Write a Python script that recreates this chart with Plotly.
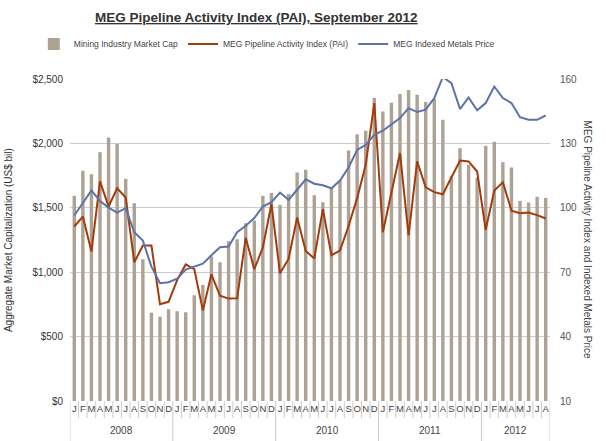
import plotly.graph_objects as go

years = ["2008", "2009", "2010", "2011", "2012"]
months_per_year = [12, 12, 12, 12, 8]
month_letters = ["J", "F", "M", "A", "M", "J", "J", "A", "S", "O", "N", "D"]

market_cap = [1593, 1787, 1761, 1932, 2046, 1997, 1725, 1536, 1101, 686, 655, 712,
              697, 689, 821, 901, 1121, 1077, 1241, 1256, 1380, 1401, 1593, 1614,
              1523, 1608, 1774, 1795, 1598, 1544, 1660, 1713, 1945, 2072, 2098, 2354,
              2248, 2315, 2383, 2414, 2378, 2321, 2344, 2183, 1748, 1963, 1834, 1735,
              1981, 2012, 1854, 1813, 1554, 1541, 1585, 1577]
pai = [91.3, 95.9, 79.6, 112.3, 100.6, 109.1, 104.8, 74.6, 82.4, 82.4, 55.1, 56.2,
       66.3, 73.6, 71.4, 52.2, 69.0, 59.0, 57.7, 57.9, 86.1, 71.4, 81.5, 101.8,
       69.5, 76.2, 95.5, 79.9, 76.4, 99.4, 77.9, 80.1, 91.5, 104.5, 120.0, 148.8,
       88.6, 106.8, 125.5, 87.1, 121.6, 109.5, 107.3, 106.3, 114.1, 122.0, 121.6, 116.9,
       89.7, 108.1, 111.9, 98.7, 97.5, 97.8, 96.6, 95.0]
metals = [96.4, 102.2, 108.1, 103.2, 100.1, 97.8, 99.8, 88.6, 84.7, 72.6, 64.9, 65.3,
          67.0, 71.2, 72.5, 74.0, 77.9, 81.6, 82.0, 88.6, 91.6, 95.2, 100.6, 102.6,
          107.1, 103.7, 108.4, 113.3, 111.2, 110.5, 109.1, 112.7, 118.8, 127.0, 129.3, 134.0,
          135.9, 138.7, 141.8, 146.4, 144.6, 145.7, 151.1, 160.9, 158.1, 146.0, 151.4, 145.4,
          148.8, 156.5, 151.1, 148.8, 142.2, 141.0, 141.0, 143.0]

left_ticks = [0, 500, 1000, 1500, 2000, 2500]
left_labels = ["$0", "$500", "$1,000", "$1,500", "$2,000", "$2,500"]
right_ticks = [10, 40, 70, 100, 130, 160]

n = len(market_cap)
x = list(range(n))
tick_text = []
for cnt in months_per_year:
    tick_text += month_letters[:cnt]

BAR = "#aea295"
BROWN = "#a33c0c"
BLUE = "#5b73aa"
GRID = "#cccccc"
FONT = "Liberation Sans, Arial, sans-serif"

fig = go.Figure()
fig.add_trace(go.Bar(x=x, y=market_cap, name="Mining Industry Market Cap",
                     marker=dict(color=BAR, line=dict(width=0)), width=0.4))
fig.add_trace(go.Scatter(x=x, y=pai, name="MEG Pipeline Activity Index (PAI)",
                         mode="lines", line=dict(color=BROWN, width=2), yaxis="y2"))
fig.add_trace(go.Scatter(x=x, y=metals, name="MEG Indexed Metals Price",
                         mode="lines", line=dict(color=BLUE, width=2), yaxis="y2"))

shapes = []
annotations = []
start = 0
boundaries_year = set([-0.5])
for cnt in months_per_year:
    start += cnt
    boundaries_year.add(start - 0.5)
for i in range(n + 1):
    b = i - 0.5
    is_year = b in boundaries_year
    shapes.append(dict(type="line", xref="x", yref="paper", x0=b, x1=b,
                       y0=0, y1=-0.125 if is_year else -0.053,
                       line=dict(color=GRID, width=1)))
start = 0
for yr, cnt in zip(years, months_per_year):
    center = start + (cnt - 1) / 2
    annotations.append(dict(x=center, y=-0.093, xref="x", yref="paper", text=yr,
                            showarrow=False, yanchor="middle",
                            font=dict(family=FONT, size=10, color="#444")))
    start += cnt

annotations.append(dict(x=-0.129, y=0.5, xref="paper", yref="paper",
                        text="Aggregate Market Capitalization (US$ bil)", textangle=-90,
                        showarrow=False, xanchor="center", yanchor="middle",
                        font=dict(family=FONT, size=10, color="#333")))
annotations.append(dict(x=1.08, y=0.5, xref="paper", yref="paper",
                        text="MEG Pipeline Activity Index and Indexed Metals Price", textangle=90,
                        showarrow=False, xanchor="center", yanchor="middle",
                        font=dict(family=FONT, size=10, color="#444")))
annotations.append(dict(x=0.3875, y=1.192, xref="paper", yref="paper",
                        text="<b><span style='text-decoration:underline'>MEG Pipeline Activity Index (PAI), September 2012</span></b>",
                        showarrow=False, xanchor="center", yanchor="middle",
                        font=dict(family=FONT, size=13.5, color="#333")))

fig.update_layout(
    width=606, height=441,
    margin=dict(l=70, r=56, t=79, b=40, autoexpand=False),
    paper_bgcolor="white", plot_bgcolor="white",
    showlegend=True,
    legend=dict(orientation="h", x=0.41, xanchor="center", y=1.109, yanchor="middle",
                font=dict(family=FONT, size=8.5, color="#444"), itemwidth=30,
                bgcolor="rgba(0,0,0,0)", tracegroupgap=0),
    bargap=0.6,
    xaxis=dict(range=[-0.5, n - 0.5], tickmode="array", tickvals=x, ticktext=tick_text,
               ticks="", showgrid=False, zeroline=False, showline=False, tickangle=0,
               tickfont=dict(family=FONT, size=9.5, color="#444"), fixedrange=True),
    yaxis=dict(range=[0, 2500], tickmode="array", tickvals=left_ticks, ticktext=left_labels,
               showgrid=True, gridcolor=GRID, gridwidth=1, zeroline=False, showline=False,
               ticks="", ticklabelstandoff=6,
               tickfont=dict(family=FONT, size=10, color="#333")),
    yaxis2=dict(range=[10, 160], tickmode="array", tickvals=right_ticks, overlaying="y",
                side="right", showgrid=False, zeroline=False, showline=False, ticks="",
                ticklabelstandoff=9,
                tickfont=dict(family=FONT, size=10, color="#555")),
    shapes=shapes,
    annotations=annotations,
)

fig.write_html("out.html", config={"displayModeBar": False},
               post_script="document.body.style.margin='0';document.body.style.padding='0';")
